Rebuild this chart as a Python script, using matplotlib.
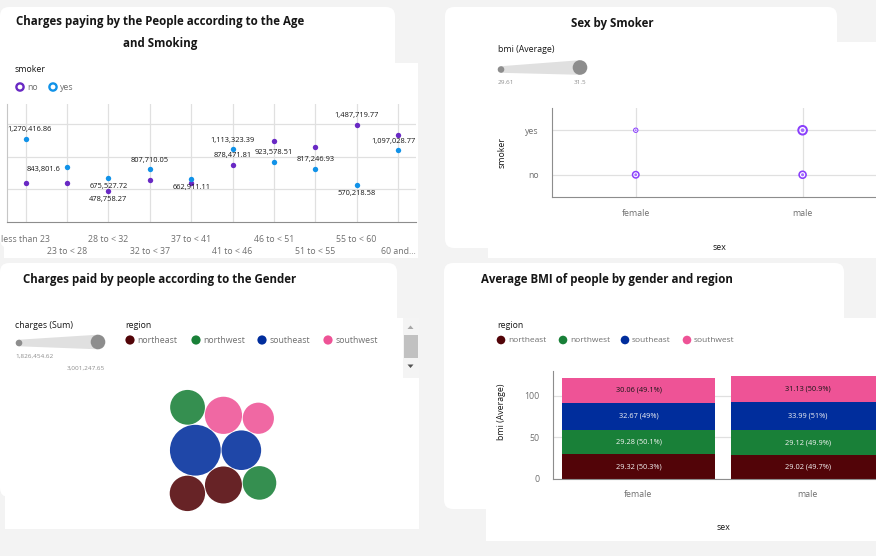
import numpy as np
import matplotlib
matplotlib.use('Agg')
import matplotlib.pyplot as plt
from matplotlib.patches import FancyBboxPatch, Rectangle, Circle, Polygon
from matplotlib.transforms import Affine2D

W, H = 876, 556

# ---- data ----
age_groups = ['less than 23', '23 to < 28', '28 to < 32', '32 to < 37', '37 to < 41',
              '41 to < 46', '46 to < 51', '51 to < 55', '55 to < 60', '60 and...']
charges_no = [592000, 592000, 478758.27, 642000, 601000,
              878471.81, 1238000, 1142000, 1487719.77, 1330000]
charges_yes = [1270416.86, 843801.6, 675527.72, 807710.05, 662911.11,
               1113323.39, 923578.51, 817246.93, 570218.58, 1097028.77]
shown_no = [False, False, True, False, False, True, False, False, True, False]
shown_yes = [True] * 10

sexes = ['female', 'male']
smoker_levels = ['no', 'yes']
bmi_smoker_no = [30.54, 30.77]
bmi_smoker_yes = [29.61, 31.5]

regions = ['northeast', 'northwest', 'southeast', 'southwest']
charges_female = [2078000, 1970000, 2330000, 1826454.62]
charges_male = [2175000, 2042000, 3001247.65, 2186300.23]

bmi_female = [29.32, 29.28, 32.67, 30.06]
bmi_male = [29.02, 29.12, 33.99, 31.13]

# ---- style ----
NO_C = '#6929c4'
YES_C = '#1192e8'
PURPLE = '#8a3ffc'
REG_C = ['#520408', '#198038', '#002d9c', '#ee5396']
DARK = '#161616'
GRAY = '#6f6f6f'
GRID = '#e0e0e0'
TITLE_FS = 8.3

plt.rcParams['font.family'] = ['Open Sans', 'DejaVu Sans']

fig = plt.figure(figsize=(W / 100, H / 100), dpi=100, facecolor='#f3f3f3')
px = Affine2D().scale(1 / W, -1 / H).translate(0, 1) + fig.transFigure


def pos(x0, y0, x1, y1):
    return [x0 / W, 1 - y1 / H, (x1 - x0) / W, (y1 - y0) / H]


def card(x0, y0, x1, y1, rounded=True):
    if rounded:
        p = FancyBboxPatch((x0, y0), x1 - x0, y1 - y0,
                           boxstyle='round,pad=0,rounding_size=9',
                           transform=px, fc='white', ec='none', zorder=-5)
    else:
        p = Rectangle((x0, y0), x1 - x0, y1 - y0, transform=px,
                      fc='white', ec='none', zorder=-5)
    fig.add_artist(p)


def txt(x, y, s, **kw):
    kw.setdefault('va', 'center')
    kw.setdefault('fontsize', 6.5)
    kw.setdefault('color', DARK)
    fig.text(x, y, s, transform=px, **kw)


def size_legend(x0, y0, r0, x1, y1, r1, lo, hi, lo_xy, hi_xy, hi_ha):
    fig.add_artist(Polygon([(x0, y0 - r0), (x1, y1 - r1), (x1, y1 + r1), (x0, y0 + r0)],
                           closed=True, transform=px, fc='#e0e0e0', ec='none', zorder=2))
    fig.add_artist(Circle((x0, y0), r0, transform=px, fc='#8d8d8d', ec='none', zorder=3))
    fig.add_artist(Circle((x1, y1), r1, transform=px, fc='#8d8d8d', ec='none', zorder=3))
    txt(lo_xy[0], lo_xy[1], lo, fontsize=4.6, color='#8d8d8d', ha='left')
    txt(hi_xy[0], hi_xy[1], hi, fontsize=4.6, color='#8d8d8d', ha=hi_ha)


def fmt(v):
    s = f'{v:,.2f}'.rstrip('0').rstrip('.')
    return s


# ---- backgrounds ----
card(0, 7, 395, 248)
card(4, 63, 418, 258, rounded=False)
card(445, 7, 837, 248)
card(488, 42, 876, 258, rounded=False)
card(0, 263, 397, 497)
card(5, 318, 419, 529, rounded=False)
card(444, 263, 844, 509)
card(486, 318, 876, 541, rounded=False)

# ---- panel 1: charges by age and smoking ----
txt(160, 22, 'Charges paying by the People according to the Age', fontsize=TITLE_FS,
    fontweight='bold', ha='center')
txt(160, 43, 'and Smoking', fontsize=TITLE_FS, fontweight='bold', ha='center')
txt(15, 70, 'smoker', fontsize=6.3)
for cx, col, lab in [(20, NO_C, 'no'), (53, YES_C, 'yes')]:
    fig.add_artist(Circle((cx, 87), 3.6, transform=px, fc='white', ec=col, lw=1.7, zorder=3))
    txt(cx + 7, 87.5, lab, fontsize=6.3, color=GRAY, ha='left')

ax1 = fig.add_axes(pos(7, 104, 416, 222), facecolor='none')
xs = np.arange(len(age_groups))
ax1.set_xlim(-0.452, 9.435)
ax1.set_ylim(0, 1804000)
ax1.set_xticks(xs)
ax1.set_yticks([500000, 1000000, 1500000])
ax1.grid(True, color=GRID, lw=0.9)
ax1.set_axisbelow(True)
ax1.tick_params(length=0, labelleft=False, labelbottom=False)
for s in ['top', 'right']:
    ax1.spines[s].set_visible(False)
ax1.spines['left'].set_color('#c6c6c6')
ax1.spines['bottom'].set_color('#8d8d8d')
ax1.scatter(xs, charges_no, s=15, color=NO_C, lw=0, zorder=3)
ax1.scatter(xs, charges_yes, s=15, color=YES_C, lw=0, zorder=3)

off_yes = [(4, 9), (-24, -3), (0, -9), (0, 9), (0, -9), (0, 9), (0, 9), (0, 9), (0, -9), (-5, 9)]
off_no = [(0, 9)] * 10
off_no[2] = (0, -9)
for i in xs:
    if shown_yes[i]:
        ax1.annotate(fmt(charges_yes[i]), (i, charges_yes[i]), xytext=off_yes[i],
                     textcoords='offset pixels', ha='center', va='center',
                     fontsize=5.4, color=DARK, zorder=4, annotation_clip=False)
    if shown_no[i]:
        ax1.annotate(fmt(charges_no[i]), (i, charges_no[i]), xytext=off_no[i],
                     textcoords='offset pixels', ha='center', va='center',
                     fontsize=5.4, color=DARK, zorder=4, annotation_clip=False)
for i, lab in enumerate(age_groups):
    ax1.text(i, -(18 if i % 2 == 0 else 29) / 118, lab, transform=ax1.get_xaxis_transform(),
             ha='center', va='center', fontsize=6.3, color=GRAY, clip_on=False)

# ---- panel 2: sex by smoker ----
txt(612, 23, 'Sex by Smoker', fontsize=TITLE_FS, fontweight='bold', ha='center')
txt(498, 50, 'bmi (Average)', fontsize=6.3, ha='left')
bmin = min(bmi_smoker_no + bmi_smoker_yes)
bmax = max(bmi_smoker_no + bmi_smoker_yes)
size_legend(501, 69.5, 3.3, 580, 67.5, 7.3, f'{bmin:g}', f'{bmax:g}',
            (498, 82), (580, 82), 'center')

ax2 = fig.add_axes(pos(552, 108, 876, 197), facecolor='none')
ax2.set_xlim(-0.502, 1.44)
ax2.set_ylim(-0.5, 1.5)
ax2.set_xticks([0, 1], sexes)
ax2.set_yticks([0, 1], smoker_levels)
ax2.grid(True, color=GRID, lw=0.9)
ax2.set_axisbelow(True)
ax2.tick_params(length=0, labelsize=6.3, labelcolor=GRAY)
ax2.tick_params(axis='x', pad=9)
ax2.tick_params(axis='y', pad=9.5)
for s in ['top', 'right']:
    ax2.spines[s].set_visible(False)
for s in ['left', 'bottom']:
    ax2.spines[s].set_color('#8d8d8d')
for j, vals in enumerate([bmi_smoker_no, bmi_smoker_yes]):
    r = 2.7 + (np.array(vals) - bmin) / (bmax - bmin) * 2.6
    ax2.scatter([0, 1], [j, j], s=(2 * r * 0.72) ** 2, color=PURPLE, lw=0, zorder=3)
    ax2.scatter([0, 1], [j, j], s=(2 * 0.62 * r * 0.72) ** 2, color='white', lw=0, zorder=4)
    ax2.scatter([0, 1], [j, j], s=(2 * 0.36 * r * 0.72) ** 2, color='#a56eff', lw=0, zorder=5)
txt(502, 153, 'smoker', fontsize=6.3, rotation=90, ha='center')
txt(719, 247, 'sex', fontsize=6.3, ha='center')

# ---- panel 3: bubbles ----
txt(23, 279, 'Charges paid by people according to the Gender', fontsize=TITLE_FS,
    fontweight='bold', ha='left')
txt(15, 325, 'charges (Sum)', fontsize=6.3, ha='left')
all_ch = charges_female + charges_male
cmin, cmax = min(all_ch), max(all_ch)
size_legend(19, 343, 3.3, 98, 342, 7.3, f'{cmin:,.2f}', f'{cmax:,.2f}',
            (15, 356), (105, 368), 'right')
txt(125, 325, 'region', fontsize=6.3, ha='left')
for k, (lx, reg) in enumerate(zip([130, 196, 262, 328], regions)):
    fig.add_artist(Circle((lx, 340), 4.6, transform=px, fc=REG_C[k], ec='none', zorder=3))
    txt(lx + 7.5, 340.5, reg, fontsize=6.3, color=GRAY, ha='left')

# scrollbar
fig.add_artist(Rectangle((403, 318), 16, 60, transform=px, fc='#f4f4f4', ec='none', zorder=2))
fig.add_artist(Rectangle((404, 335), 14, 23, transform=px, fc='#c1c1c1', ec='none', zorder=3))
fig.add_artist(Polygon([(407.5, 329), (413.5, 329), (410.5, 325.5)], transform=px,
                       fc='#a8a8a8', ec='none', zorder=3))
fig.add_artist(Polygon([(407.5, 364.5), (413.5, 364.5), (410.5, 368)], transform=px,
                       fc='#525252', ec='none', zorder=3))


# d3-style sibling circle packing
class Node:
    def __init__(self, c):
        self.c = c
        self.next = None
        self.prev = None


def place(b, a, c):
    dx, dy = b['x'] - a['x'], b['y'] - a['y']
    d2 = dx * dx + dy * dy
    if d2:
        a2 = (a['r'] + c['r']) ** 2
        b2 = (b['r'] + c['r']) ** 2
        if a2 > b2:
            x = (d2 + b2 - a2) / (2 * d2)
            y = np.sqrt(max(0, b2 / d2 - x * x))
            c['x'] = b['x'] - x * dx - y * dy
            c['y'] = b['y'] - x * dy + y * dx
        else:
            x = (d2 + a2 - b2) / (2 * d2)
            y = np.sqrt(max(0, a2 / d2 - x * x))
            c['x'] = a['x'] + x * dx - y * dy
            c['y'] = a['y'] + x * dy + y * dx
    else:
        c['x'], c['y'] = a['x'] + c['r'], a['y']


def intersects(a, b):
    dr = a['r'] + b['r'] - 1e-6
    dx, dy = b['x'] - a['x'], b['y'] - a['y']
    return dr > 0 and dr * dr > dx * dx + dy * dy


def score(node):
    a, b = node.c, node.next.c
    ab = a['r'] + b['r']
    dx = (a['x'] * b['r'] + b['x'] * a['r']) / ab
    dy = (a['y'] * b['r'] + b['y'] * a['r']) / ab
    return dx * dx + dy * dy


def pack(circles):
    n = len(circles)
    a = circles[0]
    a['x'], a['y'] = 0.0, 0.0
    b = circles[1]
    a['x'], b['x'], b['y'] = -b['r'], a['r'], 0.0
    c = circles[2]
    place(b, a, c)
    a, b, c = Node(a), Node(b), Node(c)
    a.next = c.prev = b
    b.next = a.prev = c
    c.next = b.prev = a
    i = 3
    while i < n:
        cc = circles[i]
        place(a.c, b.c, cc)
        c = Node(cc)
        j, k, sj, sk = b.next, a.prev, b.c['r'], a.c['r']
        hit = False
        while True:
            if sj <= sk:
                if intersects(j.c, c.c):
                    b = j
                    a.next, b.prev = b, a
                    hit = True
                    break
                sj += j.c['r']
                j = j.next
            else:
                if intersects(k.c, c.c):
                    a = k
                    a.next, b.prev = b, a
                    hit = True
                    break
                sk += k.c['r']
                k = k.prev
            if j is k.next:
                break
        if hit:
            continue
        c.prev, c.next = a, b
        a.next = c
        b.prev = c
        b = c
        aa = score(a)
        c = c.next
        while c is not b:
            ca = score(c)
            if ca < aa:
                a, aa = c, ca
            c = c.next
        b = a.next
        i += 1


bub = []
for k in range(len(regions)):
    for v in (charges_female[k], charges_male[k]):
        bub.append({'v': v, 'col': REG_C[k], 'r': 15.6 + (v - cmin) / (cmax - cmin) * 9.8 + 0.4})
bub.sort(key=lambda d: -d['v'])
pack(bub)
bx0 = min(d['x'] - d['r'] for d in bub)
bx1 = max(d['x'] + d['r'] for d in bub)
by0 = min(d['y'] - d['r'] for d in bub)
by1 = max(d['y'] + d['r'] for d in bub)
cx, cy = 223 - (bx0 + bx1) / 2, -450.5 - (by0 + by1) / 2

# y runs upward here, so pixel rows are negated
ax3 = fig.add_axes(pos(5, 318, 419, 529), facecolor='none')
ax3.set_xlim(5, 419)
ax3.set_ylim(-529, -318)
ax3.axis('off')
for d in bub:
    ax3.add_patch(Circle((d['x'] + cx, d['y'] + cy), d['r'] - 0.4, fc=d['col'],
                         alpha=0.88, ec='none'))

# ---- panel 4: stacked bars ----
txt(481, 279, 'Average BMI of people by gender and region', fontsize=TITLE_FS,
    fontweight='bold', ha='left')
txt(497, 325, 'region', fontsize=6.3, ha='left')
for k, (lx, reg) in enumerate(zip([501, 563, 625, 687], regions)):
    fig.add_artist(Circle((lx, 340), 4.3, transform=px, fc=REG_C[k], ec='none', zorder=3))
    txt(lx + 7, 340.5, reg, fontsize=6.0, color=GRAY, ha='left')

ax4 = fig.add_axes(pos(553.3, 371, 876, 478.7), facecolor='none')
ax4.set_xlim(-0.504, 1.405)
ax4.set_ylim(0, 129.7)
ax4.set_xticks([0, 1], sexes)
ax4.set_yticks([0, 50, 100])
ax4.grid(True, axis='y', color=GRID, lw=0.9)
ax4.set_axisbelow(True)
ax4.tick_params(length=0, labelsize=6.3, labelcolor=GRAY)
ax4.tick_params(axis='x', pad=8)
ax4.tick_params(axis='y', pad=10)
for s in ['top', 'right']:
    ax4.spines[s].set_visible(False)
for s in ['left', 'bottom']:
    ax4.spines[s].set_color('#8d8d8d')
bottom = np.zeros(2)
for k in range(len(regions)):
    vals = np.array([bmi_female[k], bmi_male[k]])
    ax4.bar([0, 1], vals, 0.905, bottom=bottom, color=REG_C[k], zorder=2)
    share = vals / vals.sum() * 100
    for x in range(2):
        p = f'{share[x]:.1f}'.rstrip('0').rstrip('.')
        ax4.text(x, bottom[x] + vals[x] / 2, f'{vals[x]:.2f} ({p}%)', ha='center',
                 va='center', fontsize=5.3, zorder=3,
                 color=DARK if k == 3 else '#f4f4f4')
    bottom += vals
txt(502, 412, 'bmi (Average)', fontsize=6.3, rotation=90, ha='center')
txt(723, 528, 'sex', fontsize=6.3, ha='center')

fig.savefig('out.png', dpi=100, facecolor=fig.get_facecolor())
